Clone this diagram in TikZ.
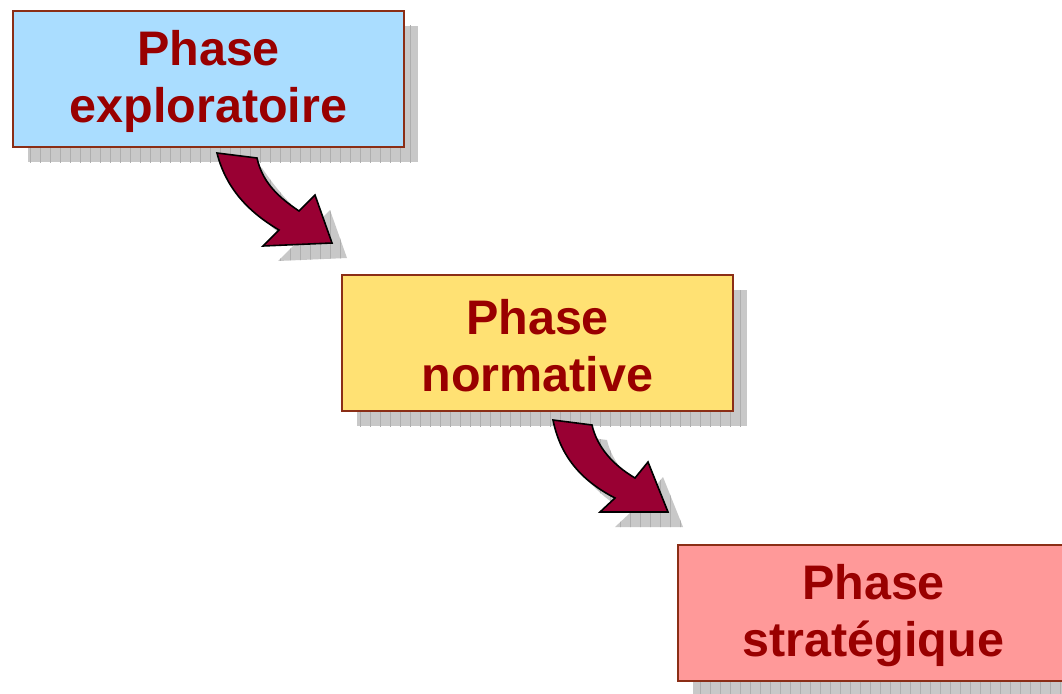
\documentclass[tikz,border=0pt]{standalone}
\usepackage{fontspec}
\setmainfont{Liberation Sans}
\definecolor{txtred}{HTML}{990000}
\definecolor{bordbrown}{HTML}{8B2E16}
\definecolor{fillblue}{HTML}{AADDFF}
\definecolor{fillyellow}{HTML}{FFE173}
\definecolor{fillpink}{HTML}{FF9999}
\definecolor{arrowred}{HTML}{990033}
\definecolor{shadowgray}{HTML}{C8C8C8}
\definecolor{gridgray}{HTML}{AEAEAE}
\tikzset{
  phasebox/.style={draw=bordbrown, line width=2pt, minimum width=391pt, minimum height=136pt,
    inner sep=0pt, anchor=north west, align=center, text=txtred,
    font=\fontsize{48.5}{57}\selectfont\bfseries},
  blockarrow/.style={fill=arrowred, draw=black, line width=1.6pt, line join=miter},
}
\newcommand{\gridshadow}[4]{% x1 y1 x2 y2
  \begin{scope}
    \clip (#1,#2) rectangle (#3,#4);
    \fill[shadowgray] (#1,#2) rectangle (#3,#4);
    \draw[gridgray, line width=0.5pt, step=10] (#1-10,#2-10) grid (#3+10,#4+10);
  \end{scope}}
\begin{document}
\begin{tikzpicture}[x=1pt,y=-1pt]
\useasboundingbox (0,0) rectangle (1062,693);
\clip (0,0) rectangle (1062,693);
% box shadows
\gridshadow{28}{26}{418}{162}
\gridshadow{357}{290}{747}{426}
\gridshadow{693}{560}{1083}{696}
% boxes
\node[phasebox, fill=fillblue] (b1) at (12,10) {\rule{0pt}{40pt}Phase\\exploratoire};
\node[phasebox, fill=fillyellow] (b2) at (341,274) {\rule{0pt}{40pt}Phase\\normative};
\node[phasebox, fill=fillpink] (b3) at (677,544) {\rule{0pt}{40pt}Phase\\strat\'egique};
% arrow 1 shadow
\begin{scope}
  \clip (232,162) -- (262,168) .. controls (277,190) and (290,205) .. (314,226)
     -- (330,210) -- (347,258) -- (278,261) -- (294,245)
     .. controls (260,220) and (240,195) .. (232,162) -- cycle;
  \gridshadow{220}{150}{360}{270}
\end{scope}
\draw[blockarrow] (217,153) -- (257,158) .. controls (262,180) and (275,195) .. (299,211)
   -- (315,195) -- (332,243) -- (263,246) -- (279,230)
   .. controls (245,210) and (225,185) .. (217,153) -- cycle;
% arrow 2 shadow
\begin{scope}
  \clip (568,435) -- (607,440) .. controls (612,462) and (628,480) .. (650,493)
     -- (663,477) -- (683,527) -- (615,527) -- (630,513)
     .. controls (595,495) and (575,470) .. (568,435) -- cycle;
  \gridshadow{550}{425}{700}{535}
\end{scope}
\draw[blockarrow] (553,420) -- (592,425) .. controls (597,447) and (613,465) .. (635,478)
   -- (648,462) -- (668,512) -- (600,512) -- (615,498)
   .. controls (580,480) and (560,455) .. (553,420) -- cycle;
\end{tikzpicture}
\end{document}
